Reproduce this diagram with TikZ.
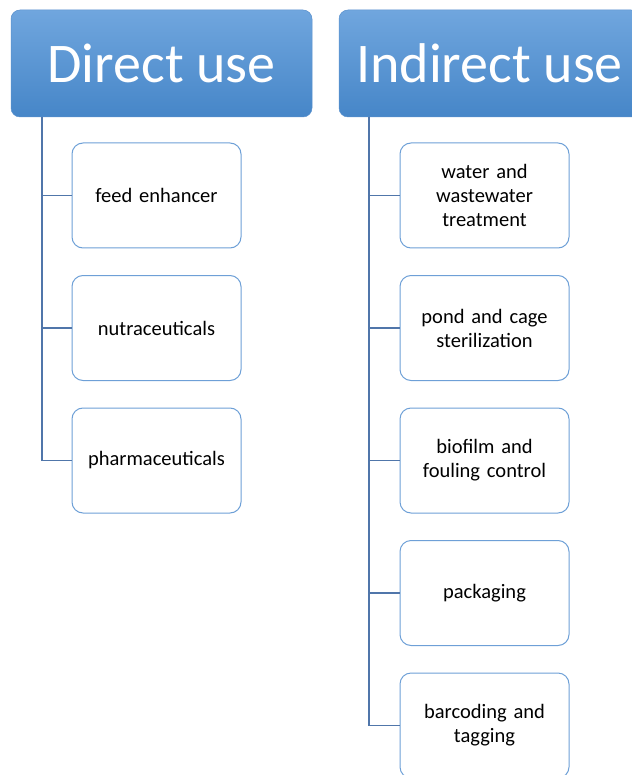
\documentclass[tikz,border=0pt]{standalone}
\usepackage{fontspec}
\setmainfont{Carlito}
\begin{document}
\begin{tikzpicture}[x=1pt,y=-1pt,
  header/.style={rounded corners=9pt, draw=hdrdark, line width=0.5pt,
    top color=hdrtop, bottom color=hdrbot, text=white, font=\fontsize{56}{60}\selectfont,
    minimum width=301pt, minimum height=107pt, inner sep=0pt},
  child/.style={rounded corners=11pt, draw=boxline, line width=1pt, fill=white,
    minimum width=169pt, minimum height=105pt, align=center, text width=160pt,
    font=\fontsize{20.5}{24}\selectfont, inner sep=0pt},
  conn/.style={draw=connline, line width=1.2pt}
]
\definecolor{hdrtop}{RGB}{112,166,222}
\definecolor{hdrbot}{RGB}{70,134,200}
\definecolor{hdrdark}{RGB}{90,145,205}
\definecolor{boxline}{RGB}{110,160,215}
\definecolor{connline}{RGB}{80,118,170}
\useasboundingbox (0,0) rectangle (631,775);
\node[header] (d) at (161.5,63.5) {Direct use};
\node[header] (i) at (489.5,63.5) {Indirect use};
% direct children
\node[child] (d1) at (156.5,195.5) {feed enhancer};
\node[child] (d2) at (156.5,328) {nutraceuticals};
\node[child] (d3) at (156.5,460.5) {pharmaceuticals};
% indirect children
\node[child] (i1) at (484.5,195.5) {water and\\wastewater\\treatment};
\node[child] (i2) at (484.5,328) {pond and cage\\sterilization};
\node[child] (i3) at (484.5,460.5) {biofilm and\\fouling control};
\node[child] (i4) at (484.5,593) {packaging};
\node[child] (i5) at (484.5,725.5) {barcoding and\\tagging};
\coordinate (dtop) at (42,117);
\coordinate (itop) at (369,117);
\foreach \n in {d1,d2,d3}{
  \draw[conn] (dtop) |- (\n.west);
}
\foreach \n in {i1,i2,i3,i4,i5}{
  \draw[conn] (itop) |- (\n.west);
}
\end{tikzpicture}
\end{document}
